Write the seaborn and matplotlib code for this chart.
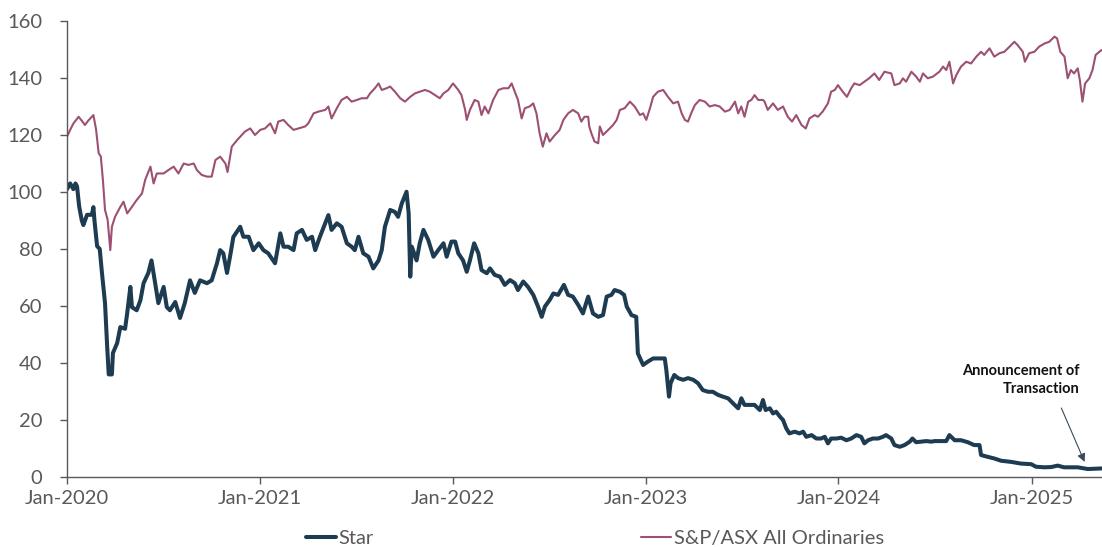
import matplotlib
matplotlib.use("Agg")
import matplotlib.pyplot as plt
import matplotlib.dates as mdates
import pandas as pd
import seaborn as sns

# ---------------- data ----------------
star_dates = [
    "2020-01-01", "2020-01-07", "2020-01-13", "2020-01-17", "2020-01-20", "2020-01-24", "2020-01-29",
    "2020-02-01", "2020-02-08", "2020-02-17", "2020-02-20", "2020-02-22", "2020-02-27", "2020-03-03",
    "2020-03-07", "2020-03-13", "2020-03-17", "2020-03-20", "2020-03-26", "2020-03-28", "2020-04-05",
    "2020-04-11", "2020-04-20", "2020-04-24", "2020-04-30", "2020-05-03", "2020-05-12", "2020-05-19",
    "2020-05-25", "2020-06-03", "2020-06-09", "2020-06-16", "2020-06-22", "2020-07-02", "2020-07-08",
    "2020-07-14", "2020-07-24", "2020-08-02", "2020-08-11", "2020-08-21", "2020-08-30", "2020-09-09",
    "2020-09-22", "2020-10-01", "2020-10-11", "2020-10-17", "2020-10-23", "2020-10-30", "2020-11-05",
    "2020-11-11", "2020-11-24", "2020-11-30", "2020-12-10", "2020-12-19", "2020-12-29", "2021-01-07",
    "2021-01-16", "2021-01-29", "2021-02-08", "2021-02-14", "2021-02-23", "2021-03-05", "2021-03-11",
    "2021-03-21", "2021-03-30", "2021-04-09", "2021-04-15", "2021-04-24", "2021-05-04", "2021-05-10",
    "2021-05-16", "2021-05-26", "2021-06-04", "2021-06-14", "2021-06-23", "2021-06-29", "2021-07-06",
    "2021-07-15", "2021-07-25", "2021-08-03", "2021-08-13", "2021-08-19", "2021-08-25", "2021-09-04",
    "2021-09-13", "2021-09-19", "2021-09-26", "2021-10-05", "2021-10-09", "2021-10-12", "2021-10-15",
    "2021-10-24", "2021-10-30", "2021-11-06", "2021-11-15", "2021-11-25", "2021-12-04", "2021-12-14",
    "2021-12-20", "2021-12-29", "2022-01-05", "2022-01-11", "2022-01-20", "2022-01-27", "2022-02-02",
    "2022-02-10", "2022-02-18", "2022-02-24", "2022-03-06", "2022-03-12", "2022-03-21", "2022-03-31",
    "2022-04-09", "2022-04-19", "2022-04-28", "2022-05-04", "2022-05-14", "2022-05-23", "2022-06-02",
    "2022-06-11", "2022-06-18", "2022-06-24", "2022-07-03", "2022-07-10", "2022-07-19", "2022-07-30",
    "2022-08-07", "2022-08-16", "2022-08-26", "2022-09-04", "2022-09-14", "2022-09-23", "2022-10-03",
    "2022-10-12", "2022-10-19", "2022-10-28", "2022-11-03", "2022-11-13", "2022-11-21", "2022-11-26",
    "2022-12-05", "2022-12-14", "2022-12-17", "2022-12-27", "2023-01-05", "2023-01-15", "2023-01-24",
    "2023-02-06", "2023-02-09", "2023-02-14", "2023-02-17", "2023-02-24", "2023-03-03", "2023-03-13",
    "2023-03-22", "2023-04-01", "2023-04-10", "2023-04-19", "2023-04-29", "2023-05-08", "2023-05-18",
    "2023-05-27", "2023-06-06", "2023-06-15", "2023-06-25", "2023-07-01", "2023-07-07", "2023-07-17",
    "2023-07-26", "2023-08-05", "2023-08-11", "2023-08-16", "2023-08-24", "2023-08-30", "2023-09-05",
    "2023-09-12", "2023-09-18", "2023-09-24", "2023-09-30", "2023-10-10", "2023-10-19", "2023-10-26",
    "2023-11-01", "2023-11-11", "2023-11-20", "2023-11-29", "2023-12-06", "2023-12-12", "2023-12-18",
    "2023-12-28", "2024-01-06", "2024-01-16", "2024-01-25", "2024-02-04", "2024-02-13", "2024-02-19",
    "2024-02-26", "2024-03-06", "2024-03-16", "2024-03-25", "2024-03-31", "2024-04-10", "2024-04-16",
    "2024-04-26", "2024-05-05", "2024-05-15", "2024-05-20", "2024-05-27", "2024-06-06", "2024-06-15",
    "2024-06-25", "2024-07-01", "2024-07-14", "2024-07-23", "2024-07-29", "2024-08-08", "2024-08-20",
    "2024-09-02", "2024-09-14", "2024-09-24", "2024-09-27", "2024-10-09", "2024-10-22", "2024-11-04",
    "2024-11-23", "2024-12-12", "2024-12-31", "2025-01-09", "2025-01-25", "2025-02-07", "2025-02-19",
    "2025-03-03", "2025-03-29", "2025-04-17", "2025-04-30", "2025-05-13",
]
star_values = [
    101, 103, 101, 103, 102, 95, 90,
    88.4, 92, 92, 94.7, 90, 81, 80,
    72, 61, 46, 36, 36, 43.5, 47,
    52.6, 52, 57.5, 66.7, 59.6, 58.5, 62,
    68, 71.6, 76, 68, 61, 66.7, 59.6,
    58.5, 61.4, 55.8, 61, 69, 64.6, 69,
    68, 69, 75, 79.6, 78.5, 71.6, 77.6,
    84.2, 87.8, 84.3, 84.3, 79.6, 82, 79.6,
    78.5, 75, 85.5, 80.8, 80.8, 79.6, 85.5,
    86.7, 83.2, 84.3, 79.6, 84.3, 89, 91.9,
    86.7, 89, 87.8, 82, 80.8, 79.6, 84.3,
    78.5, 77.3, 73.2, 76, 79.6, 87.8, 93.7,
    93, 91.3, 96, 100.1, 92.6, 70.3, 80.8,
    76, 82, 86.7, 83.2, 77.3, 79.6, 82,
    77.3, 82.6, 82.6, 78.5, 76, 72, 76,
    82, 78.5, 72.6, 71.5, 73.2, 70.9, 70.3,
    67.4, 69.1, 68, 65.6, 68.6, 66.7, 63.9,
    59.8, 56.2, 59.8, 62.1, 64.4, 63.9, 67.4,
    63.9, 63.3, 60.4, 57.4, 63.3, 57.4, 56.2,
    56.8, 63.3, 63.9, 65.6, 65, 63.9, 59.8,
    56.8, 56.2, 43.4, 39.3, 40.5, 41.6, 41.6,
    41.6, 37.5, 28.2, 32.9, 35.8, 34.7, 34.1,
    34.7, 34.1, 32.9, 30.5, 29.9, 29.9, 28.8,
    28.2, 27.6, 25.9, 24.1, 27.6, 25.3, 25.3,
    25.3, 23.5, 27, 23.5, 24.1, 22.3, 22.9,
    21.2, 20, 17.1, 15.3, 15.9, 15.3, 15.9,
    14.1, 14.7, 13.5, 13.5, 14.1, 11.8, 13.5,
    13.5, 13.8, 12.9, 13.5, 14.7, 14.1, 11.8,
    12.9, 13.5, 13.5, 14.1, 14.7, 13.5, 11.2,
    10.6, 11.2, 12.4, 13.5, 12.2, 12.4, 12.6,
    12.4, 12.6, 12.6, 12.6, 14.7, 12.9, 12.9,
    12.2, 11.2, 11.2, 7.7, 7.1, 6.5, 5.7,
    5.3, 4.7, 4.5, 3.6, 3.4, 3.5, 4.0,
    3.4, 3.4, 2.8, 2.9, 3.0,
]

index_dates = [
    "2020-01-01", "2020-01-07", "2020-01-13", "2020-01-23", "2020-01-29", "2020-02-04", "2020-02-10",
    "2020-02-17", "2020-02-20", "2020-02-25", "2020-03-01", "2020-03-05", "2020-03-09", "2020-03-13",
    "2020-03-18", "2020-03-23", "2020-03-26", "2020-04-01", "2020-04-11", "2020-04-17", "2020-04-24",
    "2020-05-03", "2020-05-12", "2020-05-22", "2020-05-28", "2020-06-07", "2020-06-13", "2020-06-19",
    "2020-07-02", "2020-07-11", "2020-07-21", "2020-07-30", "2020-08-09", "2020-08-18", "2020-08-28",
    "2020-09-03", "2020-09-12", "2020-09-22", "2020-10-01", "2020-10-08", "2020-10-17", "2020-10-27",
    "2020-10-31", "2020-11-08", "2020-11-18", "2020-11-24", "2020-12-03", "2020-12-13", "2020-12-22",
    "2021-01-01", "2021-01-10", "2021-01-20", "2021-01-29", "2021-02-04", "2021-02-14", "2021-02-23",
    "2021-03-05", "2021-03-14", "2021-03-27", "2021-04-02", "2021-04-12", "2021-04-21", "2021-05-04",
    "2021-05-10", "2021-05-16", "2021-05-26", "2021-06-04", "2021-06-14", "2021-06-23", "2021-07-03",
    "2021-07-12", "2021-07-22", "2021-07-28", "2021-08-06", "2021-08-13", "2021-08-19", "2021-08-28",
    "2021-09-04", "2021-09-13", "2021-09-23", "2021-10-02", "2021-10-12", "2021-10-21", "2021-10-30",
    "2021-11-09", "2021-11-18", "2021-11-28", "2021-12-07", "2021-12-14", "2021-12-23", "2022-01-01",
    "2022-01-11", "2022-01-17", "2022-01-24", "2022-01-27", "2022-02-02", "2022-02-11", "2022-02-18",
    "2022-02-24", "2022-03-02", "2022-03-09", "2022-03-18", "2022-03-28", "2022-04-06", "2022-04-16",
    "2022-04-22", "2022-04-28", "2022-05-04", "2022-05-11", "2022-05-17", "2022-05-26", "2022-06-02",
    "2022-06-08", "2022-06-14", "2022-06-20", "2022-06-27", "2022-07-03", "2022-07-13", "2022-07-22",
    "2022-07-29", "2022-08-07", "2022-08-16", "2022-08-26", "2022-09-01", "2022-09-07", "2022-09-14",
    "2022-09-16", "2022-09-20", "2022-09-26", "2022-10-03", "2022-10-06", "2022-10-12", "2022-10-22",
    "2022-10-31", "2022-11-07", "2022-11-13", "2022-11-22", "2022-12-02", "2022-12-11", "2022-12-21",
    "2022-12-27", "2023-01-02", "2023-01-09", "2023-01-15", "2023-01-24", "2023-02-03", "2023-02-12",
    "2023-02-22", "2023-03-03", "2023-03-10", "2023-03-16", "2023-03-22", "2023-03-28", "2023-04-04",
    "2023-04-13", "2023-04-23", "2023-05-02", "2023-05-12", "2023-05-21", "2023-05-31", "2023-06-09",
    "2023-06-19", "2023-06-25", "2023-07-01", "2023-07-07", "2023-07-14", "2023-07-20", "2023-07-26",
    "2023-08-02", "2023-08-11", "2023-08-14", "2023-08-20", "2023-08-30", "2023-09-08", "2023-09-18",
    "2023-09-27", "2023-10-05", "2023-10-13", "2023-10-23", "2023-10-31", "2023-11-07", "2023-11-17",
    "2023-11-23", "2023-12-02", "2023-12-12", "2023-12-18", "2023-12-25", "2023-12-31", "2024-01-09",
    "2024-01-17", "2024-01-25", "2024-01-31", "2024-02-10", "2024-02-19", "2024-02-28", "2024-03-09",
    "2024-03-18", "2024-03-28", "2024-04-10", "2024-04-16", "2024-04-26", "2024-05-02", "2024-05-08",
    "2024-05-18", "2024-05-27", "2024-06-03", "2024-06-09", "2024-06-18", "2024-06-28", "2024-07-10",
    "2024-07-17", "2024-07-23", "2024-07-29", "2024-08-05", "2024-08-11", "2024-08-20", "2024-08-30",
    "2024-09-08", "2024-09-18", "2024-09-27", "2024-10-03", "2024-10-13", "2024-10-22", "2024-11-01",
    "2024-11-10", "2024-11-20", "2024-11-29", "2024-12-05", "2024-12-15", "2024-12-19", "2024-12-27",
    "2025-01-06", "2025-01-15", "2025-01-25", "2025-02-03", "2025-02-13", "2025-02-18", "2025-02-24",
    "2025-03-04", "2025-03-10", "2025-03-16", "2025-03-22", "2025-03-29", "2025-04-02", "2025-04-07",
    "2025-04-12", "2025-04-20", "2025-04-26", "2025-05-02", "2025-05-13",
]
index_values = [
    119.4, 121.8, 124, 126.4, 125, 123.5, 125,
    126.4, 127, 122, 113.6, 112.5, 104.2, 93.7,
    90.2, 79.6, 87.8, 91.3, 94.8, 96.6, 92.5,
    94.8, 97.2, 99.5, 104.2, 108.9, 103, 106.5,
    106.5, 107.7, 108.9, 106.5, 110, 109.5, 110,
    107.7, 106, 105.4, 105.4, 111.2, 112.4, 110,
    107, 115.9, 118.2, 119.4, 121.2, 122.3, 120,
    121.8, 122.3, 124.1, 120.6, 124.7, 125.3, 123.5,
    121.8, 122.3, 123, 124.1, 127.6, 128.2, 128.8,
    130, 125.8, 129.4, 132.3, 133.4, 131.7, 132.3,
    132.9, 132.9, 134.6, 136.4, 138.1, 135.8, 136.4,
    137, 135.2, 132.9, 131.7, 133.4, 134.6, 135.2,
    135.8, 135.2, 134, 132.9, 134.6, 135.8, 138.1,
    135.8, 134, 128.8, 125.3, 128.8, 132.3, 131.7,
    127, 130, 127.6, 132.3, 135.8, 136.4, 136.4,
    138.1, 135.2, 132.3, 125.8, 129.4, 130, 131.1,
    127.6, 120.6, 115.9, 120.6, 117.7, 120, 121.8,
    125.3, 127.6, 128.8, 127.6, 124.7, 126.4, 126.4,
    123, 120.6, 117.7, 117.1, 123, 120, 121.8,
    123.5, 125.3, 128.8, 129.4, 131.7, 130, 127,
    127.6, 125.3, 129.4, 133.4, 135.2, 135.8, 133.4,
    131.1, 131.7, 127.6, 125.3, 124.7, 127.6, 130.5,
    132.3, 131.7, 130, 130.5, 130, 128.2, 128.8,
    131.7, 127.6, 130, 126.4, 131.7, 132.3, 134,
    132.3, 132.3, 131.7, 128.8, 131.1, 128.8, 130,
    126.4, 124.7, 127, 123.5, 122.3, 125.8, 127,
    126.4, 128.2, 131.1, 135.2, 135.8, 137.5, 135.2,
    133.4, 136.4, 138.1, 137.5, 138.7, 139.9, 141.6,
    139.3, 142.2, 141.6, 137.5, 138.1, 139.9, 138.7,
    142.2, 140.5, 138.7, 141.6, 139.9, 140.5, 142.2,
    144, 142.8, 145.7, 138.1, 141, 144, 145.7,
    145.1, 147.5, 149.2, 148.1, 150.4, 147.5, 148.7,
    149.2, 151, 152.7, 151.6, 149.2, 145.7, 148.7,
    149.2, 151, 152.1, 152.7, 154.5, 153.9, 149.2,
    147.5, 139.9, 142.8, 141.6, 143.4, 139.3, 131.7,
    138.1, 139.9, 142.8, 148.1, 149.8,
]

series_names = ["Star", "S&P/ASX All Ordinaries"]
y_ticks = [0, 20, 40, 60, 80, 100, 120, 140, 160]
annotation_text = "Announcement of\nTransaction"

# ---------------- styling ----------------
STAR_C = "#1d3b51"
INDEX_C = "#9c5073"
AXIS_C = "#595959"

sns.set_theme(style="ticks")
plt.rcParams["font.family"] = ["Lato", "DejaVu Sans"]

fig = plt.figure(figsize=(11.02, 5.47), dpi=100)
ax = fig.add_axes([67 / 1102, 1 - 477 / 547, 1 - 67 / 1102, 456 / 547])

star_df = pd.DataFrame({"date": pd.to_datetime(star_dates), "value": star_values})
index_df = pd.DataFrame({"date": pd.to_datetime(index_dates), "value": index_values})

sns.lineplot(data=star_df, x="date", y="value", ax=ax, color=STAR_C,
             linewidth=2.9, label=series_names[0])
sns.lineplot(data=index_df, x="date", y="value", ax=ax, color=INDEX_C,
             linewidth=1.5, label=series_names[1])

ax.set_xlim(pd.Timestamp("2020-01-01"), pd.Timestamp("2025-05-14"))
ax.set_ylim(0, 160)
ax.set_yticks(y_ticks)
ax.xaxis.set_major_locator(mdates.YearLocator())
ax.xaxis.set_major_formatter(mdates.DateFormatter("%b-%Y"))
ax.set_xlabel("")
ax.set_ylabel("")

for s in ["top", "right"]:
    ax.spines[s].set_visible(False)
for s in ["left", "bottom"]:
    ax.spines[s].set_color(AXIS_C)
    ax.spines[s].set_linewidth(1.0)

ax.tick_params(axis="both", colors=AXIS_C, labelcolor=AXIS_C, labelsize=14.5,
               length=5, width=1)
ax.tick_params(axis="y", pad=13)
ax.tick_params(axis="x", pad=4)

# annotation
ax.annotate("", xy=(pd.Timestamp("2025-04-11"), 5.3),
            xytext=(pd.Timestamp("2025-02-26"), 24.2),
            arrowprops=dict(arrowstyle="-|>", color="#3a4a5c", lw=0.8,
                            mutation_scale=12, shrinkA=0, shrinkB=0))
ax.text(pd.Timestamp("2025-04-01"), 34, annotation_text, ha="right", va="center",
        fontsize=10.5, fontweight="bold", color="#111111", linespacing=1.3)

ax.legend(loc="center", bbox_to_anchor=(0.51, -0.134), ncol=2, frameon=False,
          fontsize=14.5, handlelength=1.5, handletextpad=0.15, columnspacing=13.25,
          labelcolor=AXIS_C)

fig.savefig("out.png", dpi=100)
